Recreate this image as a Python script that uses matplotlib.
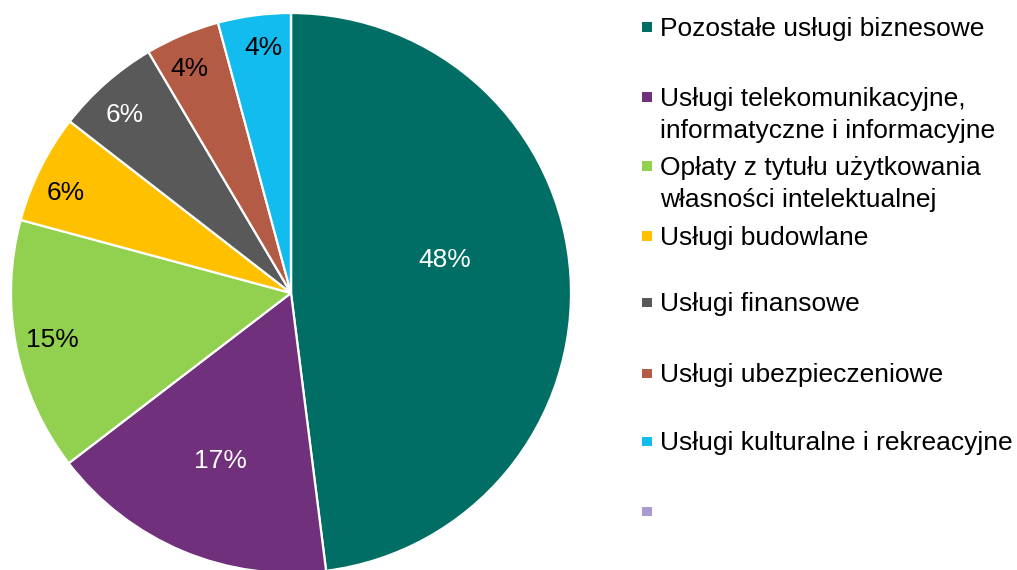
import matplotlib
matplotlib.use("Agg")
import matplotlib.pyplot as plt
import matplotlib.patches as patches
import numpy as np

plt.rcParams['font.family'] = ['Liberation Sans', 'DejaVu Sans']

# data
categories = [
    "Pozostałe usługi biznesowe",
    "Usługi telekomunikacyjne,\ninformatyczne i informacyjne",
    "Opłaty z tytułu użytkowania\nwłasności intelektualnej",
    "Usługi budowlane",
    "Usługi finansowe",
    "Usługi ubezpieczeniowe",
    "Usługi kulturalne i rekreacyjne",
    "",
]
shares = [48.0, 16.6, 14.6, 6.3, 6.0, 4.3, 4.2, 0.0]

colors = ['#006E65', '#70307C', '#92D050', '#FFC000', '#595959',
          '#B45B45', '#12BCEE', '#A99BCF']
text_colors = ['white', 'white', 'black', 'black', 'white', 'black', 'black', 'black']
# label placement (fraction of radius, extra angle in degrees)
label_dist = [0.56, 0.65, 0.87, 0.88, 0.87, 0.88, 0.88, 0.88]
label_rot = [8.5, 0, 0, 2.5, 1.5, 1.5, -1.2, 0]

W, H = 1017, 570
fig = plt.figure(figsize=(W / 100, H / 100), dpi=100)

# pie axes: center (291, 293) px, radius 280 px
cx, cy, r = 291, 293, 280
ax = fig.add_axes([(cx - r) / W, (H - cy - r) / H, 2 * r / W, 2 * r / H])

wedges, texts, autotexts = ax.pie(
    shares, colors=colors, startangle=90, counterclock=False,
    autopct=lambda p: '' if p < 0.05 else '%.0f%%' % p,
    pctdistance=0.88,
    wedgeprops=dict(edgecolor='white', linewidth=1.6),
    textprops=dict(fontsize=19))
for i, (w, t) in enumerate(zip(wedges, autotexts)):
    ang = np.deg2rad((w.theta1 + w.theta2) / 2 + label_rot[i])
    t.set_position((label_dist[i] * np.cos(ang), label_dist[i] * np.sin(ang)))
    t.set_color(text_colors[i])
ax.set_xlim(-1, 1)
ax.set_ylim(-1, 1)
ax.set_aspect('equal')
ax.axis('off')

# legend drawn by hand to mimic the spacing of the original
legend_y = [27, 97, 166, 236, 302, 373, 441, 511]
for lab, col, y in zip(categories, colors, legend_y):
    fig.patches.append(patches.Rectangle(
        (642 / W, (H - y - 4.5) / H), 10 / W, 9 / H,
        transform=fig.transFigure, facecolor=col, edgecolor='none'))
    for j, line in enumerate(lab.split('\n')):
        fig.text(660 / W, (H - y - 9 - 32 * j) / H, line, fontsize=19,
                 va='baseline', ha='left', color='black')

fig.savefig("out.png", dpi=100)
